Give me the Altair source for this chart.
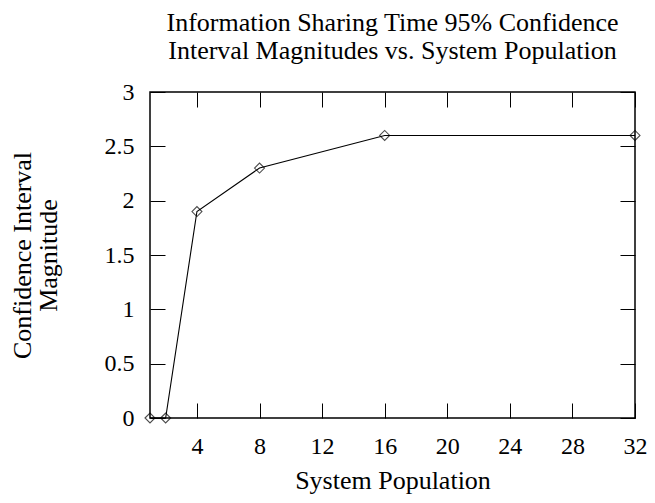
import altair as alt
import pandas as pd

population = [1, 2, 4, 8, 16, 32]
magnitude = [0, 0, 1.9, 2.3, 2.6, 2.6]
x_ticks = [4, 8, 12, 16, 20, 24, 28, 32]
y_ticks = [0, 0.5, 1, 1.5, 2, 2.5, 3]

df = pd.DataFrame({"pop": population, "mag": magnitude})
FONT = "Liberation Serif"
TICK = 15
LABEL_FS = 24
TITLE_FS = 26

xs = alt.Scale(domain=[1, 32], nice=False, zero=False)
ys = alt.Scale(domain=[0, 3], nice=False)

base = alt.Chart(df)

main_x = alt.Axis(orient="bottom", values=x_ticks, domain=False, grid=False,
                  ticks=True, tickSize=TICK, tickColor="black", tickWidth=1, offset=-TICK,
                  labelFont=FONT, labelFontSize=LABEL_FS, labelColor="black", labelPadding=16,
                  labelFlush=False, labelOverlap=False,
                  title="System Population", titleFont=FONT, titleFontSize=TITLE_FS,
                  titleFontWeight="normal", titleColor="black", titlePadding=9)
main_y = alt.Axis(orient="left", values=y_ticks, domain=False, grid=False,
                  ticks=True, tickSize=TICK, tickColor="black", tickWidth=1, offset=-TICK,
                  format="~g", labelFont=FONT, labelFontSize=LABEL_FS, labelColor="black",
                  labelPadding=16, labelFlush=False, labelOverlap=False,
                  title=["Confidence Interval", "Magnitude"], titleFont=FONT,
                  titleFontSize=TITLE_FS, titleLineHeight=26,
                  titleFontWeight="normal", titleColor="black", titlePadding=43)

line = base.mark_line(color="black", strokeWidth=1.1).encode(
    x=alt.X("pop:Q", scale=xs, axis=main_x),
    y=alt.Y("mag:Q", scale=ys, axis=main_y),
)
pts = base.mark_point(shape="diamond", size=100, color="black", filled=False,
                      strokeWidth=1.1).encode(x="pop:Q", y="mag:Q")


def tick_axis(orient, values):
    return alt.Axis(orient=orient, values=values, labels=False, domain=False, grid=False,
                    ticks=True, tickSize=TICK, tickColor="black", tickWidth=1,
                    offset=-TICK, title=None)


mirror = base.mark_point(opacity=0).encode(
    x=alt.X("pop:Q", scale=xs, axis=tick_axis("top", x_ticks)),
    y=alt.Y("mag:Q", scale=ys, axis=tick_axis("right", y_ticks)),
)

chart = alt.layer(line + pts, mirror).resolve_axis(
    x="independent", y="independent"
).properties(
    width=485, height=326,
    autosize=alt.AutoSizeParams(type="none"),
    padding={"left": 142, "top": 84, "right": 12, "bottom": 77},
    title=alt.TitleParams(
        text=["Information Sharing Time 95% Confidence",
              "Interval Magnitudes vs. System Population"],
        font=FONT, fontSize=TITLE_FS, fontWeight="normal", color="black",
        anchor="middle", frame="group", offset=16, lineHeight=28,
    ),
).configure_view(stroke="black", strokeWidth=1.5)

chart.save("out.html", embed_options={"renderer": "svg", "actions": False})
